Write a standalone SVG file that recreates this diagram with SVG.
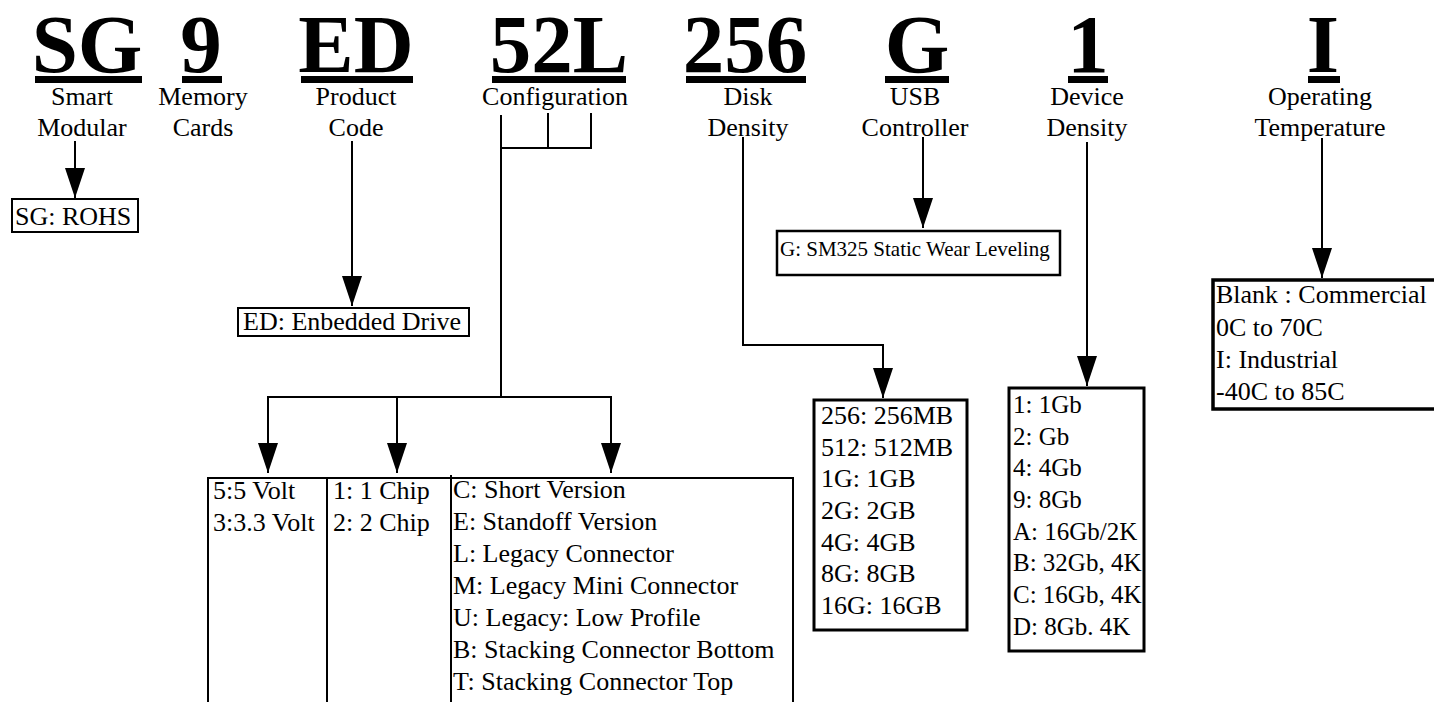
<svg xmlns="http://www.w3.org/2000/svg" width="1434" height="702" viewBox="0 0 1434 702" font-family="'Liberation Serif', 'Times New Roman', serif">
<style>
text{font-family:"Liberation Serif","Times New Roman",serif;fill:#000}
.big{font-size:83px;font-weight:bold;text-anchor:middle}
.sub{font-size:26px;text-anchor:middle}
.lbl{font-size:26px}
.lblmd{font-size:25px}
.lblsm{font-size:21px}
.bar{fill:#000}
.box{fill:none;stroke:#000;stroke-width:3}
.thin{fill:none;stroke:#000;stroke-width:2}
.con{fill:none;stroke:#000;stroke-width:2}
</style>
<defs>
<marker id="arr" markerUnits="userSpaceOnUse" markerWidth="30" markerHeight="20" viewBox="0 0 30 20" refX="30" refY="10" orient="auto">
<path d="M0,0 L30,10 L0,20 Z" fill="#000"/>
</marker>
</defs>
<rect width="1434" height="702" fill="#fff"/>

<g id="code-sg">
<text class="big" x="87" y="72">SG</text>
<rect class="bar" x="35" y="76" width="107" height="7"/>
<text class="sub" x="82" y="105">Smart</text>
<text class="sub" x="82" y="136">Modular</text>
</g>
<g id="code-9">
<text class="big" x="201" y="72">9</text>
<rect class="bar" x="182" y="76" width="40" height="7"/>
<text class="sub" x="203" y="105">Memory</text>
<text class="sub" x="203" y="136">Cards</text>
</g>
<g id="code-ed">
<text class="big" x="356" y="72">ED</text>
<rect class="bar" x="301" y="76" width="112" height="7"/>
<text class="sub" x="356" y="105">Product</text>
<text class="sub" x="356" y="136">Code</text>
</g>
<g id="code-52l">
<text class="big" x="559" y="72">52L</text>
<rect class="bar" x="492" y="76" width="134" height="7"/>
<text class="sub" x="555" y="105">Configuration</text>
</g>
<g id="code-256">
<text class="big" x="745" y="72">256</text>
<rect class="bar" x="686" y="76" width="120" height="7"/>
<text class="sub" x="748" y="105">Disk</text>
<text class="sub" x="748" y="136">Density</text>
</g>
<g id="code-g">
<text class="big" x="917" y="72">G</text>
<rect class="bar" x="885" y="76" width="64" height="7"/>
<text class="sub" x="915" y="105">USB</text>
<text class="sub" x="915" y="136">Controller</text>
</g>
<g id="code-1">
<text class="big" x="1088" y="72">1</text>
<rect class="bar" x="1068" y="76" width="40" height="7"/>
<text class="sub" x="1087" y="105">Device</text>
<text class="sub" x="1087" y="136">Density</text>
</g>
<g id="code-i">
<text class="big" x="1323" y="72">I</text>
<rect class="bar" x="1308" y="76" width="32" height="7"/>
<text class="sub" x="1320" y="105">Operating</text>
<text class="sub" x="1320" y="136">Temperature</text>
</g>

<g id="connectors">
<path class="con" d="M75,141 V198" marker-end="url(#arr)"/>
<path class="con" d="M352,141 V306" marker-end="url(#arr)"/>
<path class="con" d="M501,115 V148 M548,113 V148 M591,113 V148 M500,148 H592"/>
<path class="con" d="M501,148 V397 M267,397 H612"/>
<path class="con" d="M268,397 V473" marker-end="url(#arr)"/>
<path class="con" d="M397,397 V473" marker-end="url(#arr)"/>
<path class="con" d="M611,397 V473" marker-end="url(#arr)"/>
<path class="con" d="M743,137 V345 H883 V398" marker-end="url(#arr)"/>
<path class="con" d="M923,137 V228" marker-end="url(#arr)"/>
<path class="con" d="M1087,142 V386" marker-end="url(#arr)"/>
<path class="con" d="M1322,138 V278" marker-end="url(#arr)"/>
</g>

<g id="box-sg">
<rect class="thin" x="12" y="199" width="126" height="33"/>
<text class="lbl" x="15" y="225">SG: ROHS</text>
</g>
<g id="box-ed">
<rect class="thin" x="238" y="308" width="231" height="28"/>
<text class="lbl" x="243" y="330">ED: Enbedded Drive</text>
</g>
<g id="box-voltage">
<path class="thin" d="M208,702 V478 H327"/>
<text class="lbl" x="213" y="499">5:5 Volt</text>
<text class="lbl" x="213" y="531">3:3.3 Volt</text>
</g>
<g id="box-chip">
<path class="thin" d="M327,702 V478 H451"/>
<text class="lbl" x="333" y="499">1: 1 Chip</text>
<text class="lbl" x="333" y="531">2: 2 Chip</text>
</g>
<g id="box-connector">
<path class="thin" d="M451,702 V475 M451,478 H793 V702"/>
<text class="lbl" x="453" y="498">C: Short Version</text>
<text class="lbl" x="453" y="530">E: Standoff Version</text>
<text class="lbl" x="453" y="562">L: Legacy Connector</text>
<text class="lbl" x="453" y="594">M: Legacy Mini Connector</text>
<text class="lbl" x="453" y="626">U: Legacy: Low Profile</text>
<text class="lbl" x="453" y="658">B: Stacking Connector Bottom</text>
<text class="lbl" x="453" y="690">T: Stacking Connector Top</text>
</g>
<g id="box-usb">
<rect class="box" x="777" y="231" width="283" height="44" style="stroke-width:2.5"/>
<text class="lblsm" x="780" y="256">G: SM325 Static Wear Leveling</text>
</g>
<g id="box-disk">
<rect class="box" x="814" y="400" width="153" height="230"/>
<text class="lbl" x="821" y="424">256: 256MB</text>
<text class="lbl" x="821" y="456">512: 512MB</text>
<text class="lbl" x="821" y="487">1G: 1GB</text>
<text class="lbl" x="821" y="519">2G: 2GB</text>
<text class="lbl" x="821" y="551">4G: 4GB</text>
<text class="lbl" x="821" y="582">8G: 8GB</text>
<text class="lbl" x="821" y="614">16G: 16GB</text>
</g>
<g id="box-device">
<rect class="box" x="1009" y="388" width="135" height="263"/>
<text class="lblmd" x="1013" y="413">1: 1Gb</text>
<text class="lblmd" x="1013" y="445">2: Gb</text>
<text class="lblmd" x="1013" y="476">4: 4Gb</text>
<text class="lblmd" x="1013" y="508">9: 8Gb</text>
<text class="lblmd" x="1013" y="540">A: 16Gb/2K</text>
<text class="lblmd" x="1013" y="571">B: 32Gb, 4K</text>
<text class="lblmd" x="1013" y="603">C: 16Gb, 4K</text>
<text class="lblmd" x="1013" y="635">D: 8Gb. 4K</text>
</g>
<g id="box-temp">
<rect class="box" x="1213" y="280" width="240" height="129" style="stroke-width:3.5"/>
<text class="lbl" x="1216" y="303">Blank : Commercial</text>
<text class="lbl" x="1216" y="336">0C to 70C</text>
<text class="lbl" x="1216" y="368">I: Industrial</text>
<text class="lbl" x="1216" y="400">-40C to 85C</text>
</g>
</svg>
